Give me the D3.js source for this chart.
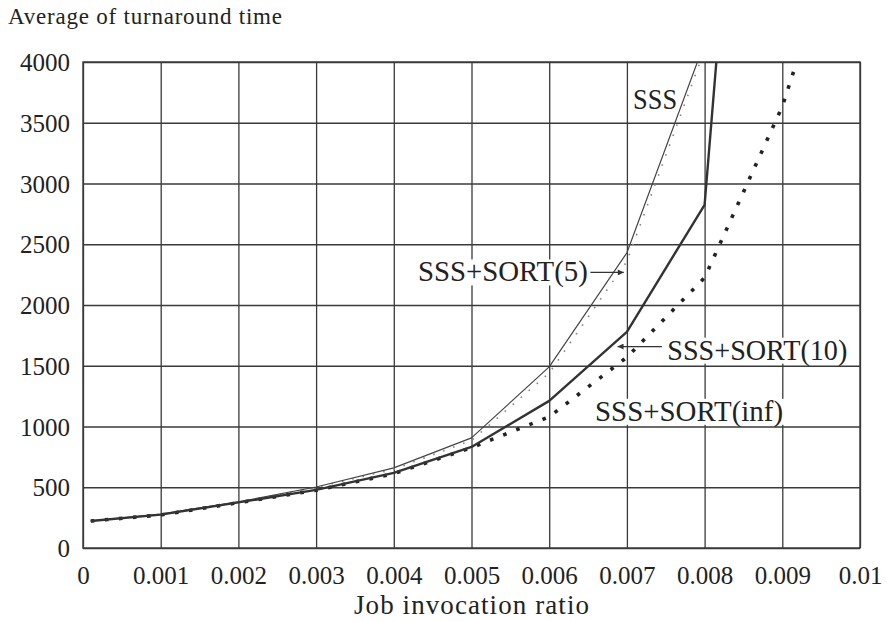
<!DOCTYPE html>
<html lang="en">
<head>
<meta charset="UTF-8">
<title>Average of turnaround time</title>
<script src="https://d3js.org/d3.v7.min.js"></script>
<style>
  body { margin: 0; background: #fff; }
  svg { display: block; }
</style>
</head>
<body>
<svg id="canvas"></svg>
<script>
// job invocation ratio (x) and the four series
let ratios = [0.0001, 0.001, 0.002, 0.003, 0.004, 0.005, 0.006, 0.007, 0.008, 0.009, 0.01]
let sss = [222, 280, 379, 502, 659, 906, 1491, 2430, 4160]
let sort5 = [222, 278, 377, 498, 648, 885, 1440, 2360, 4100]
let sort10 = [222, 275, 375, 478, 618, 832, 1211, 1779, 2825, 10600]
let sortInf = [222, 272, 373, 475, 612, 826, 1080, 1570, 2225, 3635, 5600]

let xTicks = [0, 0.001, 0.002, 0.003, 0.004, 0.005, 0.006, 0.007, 0.008, 0.009, 0.01]
let xTickLabels = ["0", "0.001", "0.002", "0.003", "0.004", "0.005", "0.006", "0.007", "0.008", "0.009", "0.01"]
let yTicks = [0, 500, 1000, 1500, 2000, 2500, 3000, 3500, 4000]

let font = "'Liberation Serif', 'Times New Roman', serif"
let ink = "#222"

let width = 887
let height = 621
let margin = {top: 62, right: 27, bottom: 73, left: 83}
let w = width - margin.left - margin.right
let h = height - margin.top - margin.bottom

let svg = d3.select("#canvas")
  .attr("width", width)
  .attr("height", height)

let xScale = d3.scaleLinear().domain([0, 0.01]).range([0, w])
let yScale = d3.scaleLinear().domain([0, 4000]).range([h, 0])

svg.append("text")
  .attr("x", 8)
  .attr("y", 24)
  .style("font-family", font)
  .attr("font-size", 23)
  .attr("textLength", 274)
  .attr("lengthAdjust", "spacing")
  .attr("fill", ink)
  .text("Average of turnaround time")

let g = svg.append("g")
  .attr("transform", "translate(" + margin.left + "," + margin.top + ")")

// grid + tick labels through the axes
let xAxis = d3.axisBottom(xScale)
  .tickValues(xTicks)
  .tickFormat((d, i) => xTickLabels[i])
  .tickSizeInner(-h)
  .tickSizeOuter(0)
  .tickPadding(18)

let yAxis = d3.axisLeft(yScale)
  .tickValues(yTicks)
  .tickFormat(d3.format("d"))
  .tickSizeInner(-w)
  .tickSizeOuter(0)
  .tickPadding(13)

let gx = g.append("g")
  .attr("transform", "translate(0," + h + ")")
  .call(xAxis)
let gy = g.append("g").call(yAxis)

;[gx, gy].forEach(a => {
  a.select(".domain").remove()
  a.selectAll("line").attr("stroke", "#3a3a3a").attr("stroke-width", 1.3)
  a.selectAll("text")
    .style("font-family", font)
    .attr("font-size", 25)
    .attr("fill", ink)
})
gy.selectAll("text").attr("dy", "0.34em")

g.append("rect")
  .attr("width", w)
  .attr("height", h)
  .attr("fill", "none")
  .attr("stroke", "#3a3a3a")
  .attr("stroke-width", 1.4)

svg.append("text")
  .attr("x", margin.left + w / 2)
  .attr("y", 614)
  .attr("text-anchor", "middle")
  .style("font-family", font)
  .attr("font-size", 27)
  .attr("textLength", 235)
  .attr("lengthAdjust", "spacing")
  .attr("fill", ink)
  .text("Job invocation ratio")

// lines, clipped to the plot box
g.append("clipPath").attr("id", "clip")
  .append("rect").attr("width", w).attr("height", h)

let plot = g.append("g").attr("clip-path", "url(#clip)")

let line = d3.line()
  .x((d, i) => xScale(ratios[i]))
  .y(d => yScale(d))

let series = [
  {values: sortInf, stroke: "#222", width: 3.6, dash: "3.6,10.5"},
  {values: sort5, stroke: "#888", width: 1.6, dash: "1.6,9"},
  {values: sss, stroke: "#444", width: 1.2, dash: null},
  {values: sort10, stroke: "#333", width: 2.4, dash: null}
]

series.forEach(s => {
  plot.append("path")
    .datum(s.values)
    .attr("d", line)
    .attr("fill", "none")
    .attr("stroke", s.stroke)
    .attr("stroke-width", s.width)
    .attr("stroke-dasharray", s.dash)
    .attr("stroke-linejoin", "round")
})

// labels and arrows (placed in data units)
let defs = svg.append("defs")
defs.append("marker")
  .attr("id", "arrow")
  .attr("viewBox", "0 0 10 10")
  .attr("refX", 10)
  .attr("refY", 5)
  .attr("markerWidth", 10)
  .attr("markerHeight", 6)
  .attr("markerUnits", "userSpaceOnUse")
  .attr("orient", "auto")
  .append("path")
  .attr("d", "M0,0 L10,5 L0,10 Z")
  .attr("fill", "#333")

let arrows = [
  {from: [0.00653, 2268], to: [0.00696, 2268]},
  {from: [0.00745, 1658], to: [0.00688, 1658]}
]
arrows.forEach(a => {
  g.append("line")
    .attr("x1", xScale(a.from[0])).attr("y1", yScale(a.from[1]))
    .attr("x2", xScale(a.to[0])).attr("y2", yScale(a.to[1]))
    .attr("stroke", "#333")
    .attr("stroke-width", 1.2)
    .attr("marker-end", "url(#arrow)")
})

let labels = [
  {text: "SSS", x: 0.00708, y: 3612, len: 44},
  {text: "SSS+SORT(5)", x: 0.00431, y: 2194, len: 170},
  {text: "SSS+SORT(10)", x: 0.00752, y: 1550, len: 180},
  {text: "SSS+SORT(inf)", x: 0.00659, y: 1047, len: 188}
]
labels.forEach(l => {
  let lg = g.append("g")
  let bg = lg.append("rect").attr("fill", "#fff")
  let t = lg.append("text")
    .attr("x", xScale(l.x))
    .attr("y", yScale(l.y))
    .style("font-family", font)
    .attr("font-size", 29)
    .attr("textLength", l.len)
    .attr("lengthAdjust", "spacingAndGlyphs")
    .attr("fill", ink)
    .text(l.text)
  let b = t.node().getBBox()
  bg.attr("x", b.x - 1).attr("y", b.y + 4)
    .attr("width", b.width + 2).attr("height", b.height - 7)
})
</script>
</body>
</html>
